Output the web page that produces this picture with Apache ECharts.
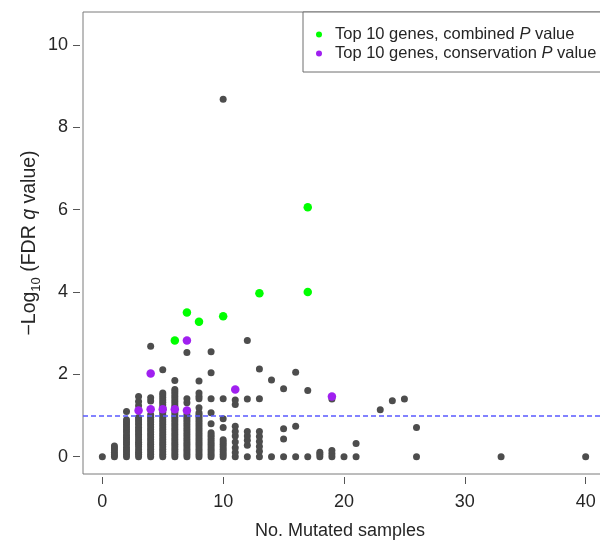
<!DOCTYPE html>
<html>
<head>
<meta charset="utf-8">
<script src="https://cdn.jsdelivr.net/npm/echarts@6/dist/echarts.min.js"></script>
<style>
  html, body { margin: 0; padding: 0; background: #ffffff; }
  #chart { width: 600px; height: 543px; }
</style>
</head>
<body>
<div id="chart"></div>
<script>
// Axis ticks
const xTicks = [0, 10, 20, 30, 40];
const yTicks = [0, 2, 4, 6, 8, 10];

// Significance cut-off: -log10(q) = 1
const fdrThreshold = 1;

// All other genes: number of mutated samples and the -log10 q scores seen at that count
const otherSamples = [0, 1, 2, 3, 4, 5, 6, 7, 8, 9, 10, 11, 12, 13, 14, 15, 16, 17, 18, 19, 20, 21, 23, 24, 25, 26, 33, 40];
const otherScores = [
  [0],
  [0, 0.05, 0.1, 0.16, 0.21, 0.26],
  [0, 0.06, 0.12, 0.17, 0.23, 0.3, 0.36, 0.42, 0.47, 0.53, 0.6, 0.66, 0.72, 0.78, 0.84, 0.9, 1.1],
  [0, 0.06, 0.11, 0.17, 0.24, 0.3, 0.35, 0.41, 0.48, 0.54, 0.6, 0.65, 0.71, 0.78, 0.84, 0.9, 0.95, 1.24, 1.34, 1.46],
  [0, 0.06, 0.12, 0.18, 0.24, 0.3, 0.36, 0.42, 0.48, 0.54, 0.6, 0.66, 0.72, 0.78, 0.84, 0.9, 0.96, 1.02, 1.35, 1.43, 2.68],
  [0, 0.06, 0.12, 0.18, 0.24, 0.3, 0.36, 0.42, 0.48, 0.54, 0.6, 0.66, 0.72, 0.78, 0.84, 0.9, 0.96, 1.02, 1.08, 1.2, 1.26, 1.32, 1.38, 1.44, 1.5, 1.55, 2.11],
  [0, 0.06, 0.12, 0.18, 0.24, 0.3, 0.36, 0.42, 0.48, 0.54, 0.6, 0.66, 0.72, 0.78, 0.84, 0.9, 0.96, 1.02, 1.08, 1.22, 1.28, 1.34, 1.4, 1.46, 1.52, 1.58, 1.63, 1.85],
  [0, 0.06, 0.12, 0.18, 0.24, 0.3, 0.36, 0.42, 0.48, 0.54, 0.6, 0.66, 0.72, 0.78, 0.84, 0.9, 0.96, 1.02, 1.31, 1.41, 2.53],
  [0, 0.06, 0.12, 0.18, 0.24, 0.3, 0.36, 0.42, 0.48, 0.54, 0.6, 0.66, 0.72, 0.78, 0.84, 0.9, 0.96, 1.02, 1.07, 1.19, 1.41, 1.47, 1.55, 1.84],
  [0, 0.06, 0.12, 0.18, 0.24, 0.3, 0.36, 0.42, 0.48, 0.53, 0.58, 0.8, 1.07, 1.41, 2.04, 2.55],
  [0, 0.06, 0.12, 0.18, 0.24, 0.3, 0.36, 0.41, 0.71, 0.92, 1.41, 8.68],
  [0, 0.1, 0.22, 0.36, 0.5, 0.61, 0.74, 1.27, 1.38],
  [0, 0.28, 0.4, 0.5, 0.61, 1.4, 2.82],
  [0, 0.13, 0.25, 0.37, 0.49, 0.61, 1.41, 2.13],
  [0, 1.86],
  [0, 0.43, 0.68, 1.65],
  [0, 0.74, 2.05],
  [0, 1.61],
  [0, 0.06, 0.11],
  [0, 0.07, 0.15, 1.4],
  [0],
  [0, 0.32],
  [1.14],
  [1.36],
  [1.4],
  [0, 0.71],
  [0],
  [0]
];

// Top 10 genes by combined P value
const combinedSamples = [6, 7, 8, 10, 13, 17, 17];
const combinedScores = [2.82, 3.5, 3.28, 3.41, 3.97, 6.06, 4.0];

// Top 10 genes by conservation P value
const conservationSamples = [3, 4, 4, 5, 6, 7, 7, 11, 19];
const conservationScores = [1.12, 1.15, 2.02, 1.15, 1.15, 1.12, 2.82, 1.63, 1.46];

const combinedName = 'Top 10 genes, combined P value';
const conservationName = 'Top 10 genes, conservation P value';

const otherPoints = [];
otherSamples.forEach((n, i) => otherScores[i].forEach(s => otherPoints.push([n, s])));
const combinedPoints = combinedSamples.map((n, i) => [n, combinedScores[i]]);
const conservationPoints = conservationSamples.map((n, i) => [n, conservationScores[i]]);

const FONT = '"Liberation Sans", Arial, Helvetica, sans-serif';
const TEXT = '#262626';

const chart = echarts.init(document.getElementById('chart'), null, { renderer: 'canvas' });

chart.setOption({
  animation: false,
  backgroundColor: '#ffffff',
  textStyle: { fontFamily: FONT },
  grid: {
    left: 83, top: 12, width: 522, height: 462,
    outerBoundsMode: 'none', containLabel: false,
    show: true, borderColor: '#7a7a7a', borderWidth: 1, backgroundColor: 'transparent'
  },
  xAxis: {
    type: 'value', min: -1.6, max: 41.6,
    splitLine: { show: false },
    axisLine: { show: false, onZero: false },
    offset: 3,
    axisTick: { show: true, length: 7, customValues: xTicks, lineStyle: { color: '#555', width: 1 } },
    axisLabel: { customValues: xTicks, margin: 16, fontSize: 18, color: TEXT, fontFamily: FONT }
  },
  yAxis: {
    type: 'value', min: -0.42, max: 10.8,
    splitLine: { show: false },
    axisLine: { show: false, onZero: false },
    offset: 3,
    axisTick: { show: true, length: 7, customValues: yTicks, lineStyle: { color: '#555', width: 1 } },
    axisLabel: { customValues: yTicks, margin: 12, fontSize: 18, color: TEXT, fontFamily: FONT }
  },
  legend: {
    data: [combinedName, conservationName],
    orient: 'vertical',
    left: 303, top: 12,
    padding: [13, 30, 9, 13],
    itemGap: 0,
    itemWidth: 6, itemHeight: 6,
    icon: 'circle',
    backgroundColor: '#ffffff',
    borderColor: '#6e6e6e', borderWidth: 1, borderRadius: 0,
    selectedMode: false,
    formatter: name => name.replace(' P ', ' {i|P} '),
    textStyle: {
      fontSize: 16.5, color: TEXT, fontFamily: FONT, lineHeight: 19, padding: [0, 0, 0, 8],
      rich: { i: { fontStyle: 'italic', fontSize: 16.5, color: TEXT, fontFamily: FONT, lineHeight: 19 } }
    }
  },
  graphic: [
    {
      type: 'text', x: 30, y: 243, rotation: Math.PI / 2, silent: true,
      style: {
        text: '\u2212Log{sub|10} (FDR {i|q} value)',
        align: 'center', verticalAlign: 'middle',
        fontSize: 19.5, fontFamily: FONT, fill: TEXT, lineHeight: 26,
        rich: {
          sub: { fontSize: 13, fontFamily: FONT, fill: TEXT, lineHeight: 13, verticalAlign: 'bottom' },
          i: { fontSize: 19.5, fontFamily: FONT, fill: TEXT, fontStyle: 'italic', lineHeight: 26 }
        }
      }
    },
    {
      type: 'text', x: 340, y: 531, silent: true,
      style: {
        text: 'No. Mutated samples', align: 'center', verticalAlign: 'middle',
        fontSize: 18, fontFamily: FONT, fill: TEXT
      }
    }
  ],
  series: [
    {
      name: 'Other genes', type: 'scatter', data: otherPoints,
      symbol: 'circle', symbolSize: 7,
      itemStyle: { color: '#4d4d4d', opacity: 1 },
      silent: true, z: 2
    },
    {
      name: combinedName, type: 'scatter', data: combinedPoints,
      symbol: 'circle', symbolSize: 8.5,
      itemStyle: { color: '#00ff00', opacity: 1 },
      silent: true, z: 3
    },
    {
      name: conservationName, type: 'scatter', data: conservationPoints,
      symbol: 'circle', symbolSize: 8.5,
      itemStyle: { color: '#a020f0', opacity: 1 },
      silent: true, z: 4,
      markLine: {
        silent: true, symbol: 'none', animation: false,
        label: { show: false },
        lineStyle: { color: '#5a5aff', width: 1.5, type: [5, 3], opacity: 1 },
        data: [{ yAxis: fdrThreshold }]
      }
    }
  ]
});
</script>
</body>
</html>
